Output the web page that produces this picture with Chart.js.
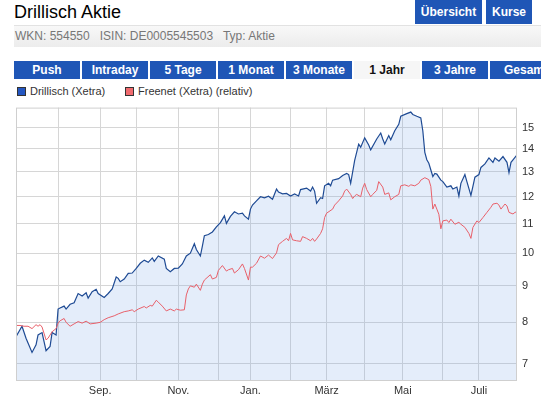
<!DOCTYPE html>
<html lang="de">
<head>
<meta charset="UTF-8">
<title>Drillisch Aktie</title>
<script src="https://cdn.jsdelivr.net/npm/chart.js@4.4.1/dist/chart.umd.min.js"></script>
<style>
  body { margin: 0; width: 541px; height: 397px; overflow: hidden; background: #fff;
         font-family: 'Liberation Sans', Arial, sans-serif; position: relative; }
  .title { position: absolute; left: 14px; top: 2px; font-size: 18px; color: #000; }
  .btn { position: absolute; top: 0; height: 24px; line-height: 24px; background: #1f56b6;
         color: #fff; font-weight: bold; font-size: 12px; text-align: center; }
  .rule { position: absolute; left: 14px; right: 0; top: 25px; height: 1px; background: #e2e2e2; }
  .info { position: absolute; left: 14px; right: 0; top: 26px; height: 21px; line-height: 21px;
          background: linear-gradient(#f8f8f8, #ececec); color: #777; font-size: 12px; padding-left: 1px; white-space: pre; }
  .tab { position: absolute; top: 61px; width: 66px; height: 18px; line-height: 18px; background: #1f56b6;
         color: #fff; font-weight: bold; font-size: 12px; text-align: center; white-space: nowrap; overflow: hidden; }
  .tab.on { background: #f6f6f6; color: #111; }
  .legend { position: absolute; top: 85px; font-size: 11px; color: #333; white-space: nowrap; }
  .legend i { display: inline-block; width: 7px; height: 7px; border: 1px solid #333; margin-right: 4px; vertical-align: -1px; }
  #wrap { position: absolute; left: 0; top: 96px; width: 541px; height: 301px; }
</style>
</head>
<body>
<div class="title">Drillisch Aktie</div>
<div class="btn" style="left:415px;width:67px">Übersicht</div>
<div class="btn" style="left:486px;width:46px">Kurse</div>
<div class="rule"></div>
<div class="info">WKN: 554550   ISIN: DE0005545503   Typ: Aktie</div>

<div class="tab" style="left:14px">Push</div>
<div class="tab" style="left:82px">Intraday</div>
<div class="tab" style="left:150px">5 Tage</div>
<div class="tab" style="left:218px">1 Monat</div>
<div class="tab" style="left:286px">3 Monate</div>
<div class="tab on" style="left:354px">1 Jahr</div>
<div class="tab" style="left:422px">3 Jahre</div>
<div class="tab" style="left:490px;text-align:left;padding-left:14px">Gesamt</div>

<div class="legend" style="left:17px"><i style="background:#2457c2"></i>Drillisch (Xetra)</div>
<div class="legend" style="left:125px"><i style="background:#f06a6e"></i>Freenet (Xetra) (relativ)</div>

<div id="wrap"><canvas id="chart"></canvas></div>

<script>
  // Handelstage (Index) und Kurse
  const drillDays = [0, 3, 5, 8, 10, 11, 13, 14, 15, 17,
    18, 20, 21, 22, 24, 25, 27, 29, 31, 33,
    35, 36, 38, 40, 41, 44, 46, 48, 50, 51,
    52, 54, 56, 58, 60, 62, 64, 66, 68, 69,
    71, 74, 75, 77, 79, 81, 83, 85, 87, 89,
    90, 92, 93, 94, 96, 98, 100, 102, 104, 105,
    107, 109, 111, 113, 114, 116, 117, 118, 120, 122,
    124, 126, 128, 130, 131, 133, 135, 137, 139, 141,
    142, 145, 147, 148, 149, 150, 152, 153, 154, 156,
    157, 158, 161, 163, 165, 166, 167, 169, 171, 172,
    174, 176, 177, 180, 182, 183, 184, 186, 187, 189,
    191, 192, 195, 197, 198, 200, 202, 203, 204, 205,
    206, 208, 209, 210, 212, 213, 215, 217, 218, 220,
    221, 222, 224, 225, 227, 228, 229, 231, 232, 234,
    236, 238, 239, 241, 243, 245, 246, 247, 248, 250];
  const drillisch = [7.64, 7.90, 7.60, 7.26, 7.44, 7.68, 7.74, 7.52, 7.30, 7.40,
    7.74, 7.68, 8.35, 8.38, 8.43, 8.35, 8.48, 8.52, 8.78, 8.71,
    8.80, 8.65, 8.83, 8.90, 8.78, 8.67, 8.78, 8.91, 9.26, 9.22,
    9.12, 9.20, 9.37, 9.38, 9.52, 9.68, 9.78, 9.71, 9.85, 9.74,
    9.91, 9.81, 9.52, 9.42, 9.52, 9.53, 9.66, 9.91, 10.00, 10.31,
    10.12, 9.91, 10.23, 10.58, 10.62, 10.71, 10.89, 11.04, 11.28, 11.01,
    11.26, 11.43, 11.35, 11.38, 11.28, 11.16, 11.53, 11.68, 11.84, 12.00,
    11.96, 12.02, 11.90, 12.30, 12.18, 12.11, 12.13, 12.03, 12.11, 12.03,
    12.28, 12.34, 12.22, 12.38, 12.22, 11.75, 11.96, 11.93, 12.43, 12.53,
    12.43, 12.66, 12.72, 12.85, 12.94, 12.89, 12.53, 13.49, 14.22, 14.08,
    14.51, 14.18, 13.96, 14.46, 14.74, 14.46, 14.23, 14.62, 14.42, 14.85,
    15.16, 15.56, 15.69, 15.77, 15.65, 15.56, 15.48, 14.85, 13.85, 13.52,
    13.37, 12.81, 12.94, 12.91, 12.66, 12.60, 12.38, 12.43, 12.30, 12.38,
    12.03, 12.53, 12.89, 12.60, 12.05, 12.41, 12.78, 12.89, 13.19, 13.34,
    13.60, 13.41, 13.60, 13.46, 13.66, 13.41, 12.97, 13.41, 13.52, 13.74];

  const freeDays = [0, 2, 4, 6, 8, 10, 11, 12, 13, 15,
    16, 18, 20, 21, 22, 24, 25, 27, 29, 31,
    33, 35, 37, 40, 42, 44, 46, 49, 51, 54,
    56, 58, 59, 61, 64, 65, 67, 68, 70, 71,
    73, 75, 77, 79, 80, 82, 84, 85, 86, 87,
    89, 90, 92, 93, 94, 97, 98, 100, 101, 103,
    105, 106, 108, 109, 111, 113, 114, 116, 117, 118,
    120, 122, 124, 126, 128, 130, 131, 133, 135, 136,
    137, 138, 140, 142, 143, 145, 147, 148, 149, 150,
    152, 153, 154, 155, 158, 159, 161, 163, 164, 165,
    167, 168, 169, 170, 172, 173, 174, 175, 177, 178,
    180, 181, 183, 184, 186, 187, 189, 191, 192, 194,
    196, 197, 199, 201, 202, 204, 206, 207, 208, 209,
    210, 211, 212, 213, 215, 216, 217, 219, 221, 222,
    224, 226, 227, 228, 230, 231, 233, 235, 237, 238,
    240, 241, 242, 244, 245, 246, 248, 249, 250];
  const freenet = [7.92, 7.92, 7.90, 7.90, 7.84, 7.94, 7.90, 7.94, 7.88, 7.56,
    7.60, 7.76, 7.84, 7.98, 8.04, 8.10, 8.00, 7.90, 7.96, 8.02,
    7.98, 8.03, 7.96, 7.98, 8.00, 8.07, 8.12, 8.17, 8.22, 8.28,
    8.30, 8.33, 8.28, 8.35, 8.42, 8.38, 8.45, 8.43, 8.59, 8.54,
    8.43, 8.30, 8.35, 8.30, 8.35, 8.32, 8.33, 8.74, 8.91, 9.00,
    8.96, 9.05, 8.87, 9.05, 9.17, 9.33, 9.20, 9.25, 9.46, 9.61,
    9.44, 9.48, 9.52, 9.38, 9.48, 9.66, 9.52, 9.17, 9.56, 9.56,
    9.68, 9.91, 9.84, 9.94, 9.83, 10.01, 10.28, 10.39, 10.49, 10.41,
    10.66, 10.44, 10.41, 10.39, 10.55, 10.49, 10.41, 10.49, 10.39, 10.47,
    10.66, 10.82, 11.22, 11.38, 11.53, 11.68, 11.84, 12.03, 12.22, 12.30,
    12.09, 11.93, 12.03, 12.09, 12.00, 12.34, 12.53, 12.28, 12.00, 12.09,
    12.25, 12.60, 12.38, 12.09, 12.15, 11.88, 12.00, 12.09, 12.43, 12.47,
    12.41, 12.47, 12.43, 12.53, 12.66, 12.76, 12.68, 12.41, 11.53, 11.72,
    11.53, 11.34, 10.82, 11.10, 11.13, 11.04, 11.16, 10.98, 11.05, 10.98,
    10.87, 10.66, 10.49, 10.87, 11.10, 11.04, 11.22, 11.41, 11.60, 11.72,
    11.75, 11.68, 11.53, 11.72, 11.65, 11.41, 11.35, 11.41, 11.43];

  // Monatsgitter und Beschriftungen
  const monthDays = [21, 42, 60, 81, 101, 117, 137, 155, 174, 193, 213, 231];
  const monthLabels = ['', 'Sep.', '', 'Nov.', '', 'Jan.', '', 'März', '', 'Mai', '', 'Juli'];
  const priceTicks = [7, 8, 9, 10, 11, 12, 13, 14, 15];

  const toPoints = (xs, ys) => xs.map((x, i) => ({ x: x, y: ys[i] }));

  const frame = {
    id: 'frame',
    afterDraw(chart) {
      const a = chart.chartArea, c = chart.ctx;
      c.save();
      c.strokeStyle = '#cfcfcf';
      c.lineWidth = 1;
      c.strokeRect(a.left + 0.5, a.top + 0.5, a.right - a.left - 1, a.bottom - a.top - 1);
      c.restore();
    }
  };

  new Chart(document.getElementById('chart'), {
    type: 'line',
    data: {
      datasets: [
        {
          label: 'Freenet (Xetra) (relativ)',
          data: toPoints(freeDays, freenet),
          borderColor: '#e8606a',
          borderWidth: 1,
          pointRadius: 0,
          fill: false,
          tension: 0
        },
        {
          label: 'Drillisch (Xetra)',
          data: toPoints(drillDays, drillisch),
          borderColor: '#1f4b94',
          borderWidth: 1.2,
          pointRadius: 0,
          fill: 'start',
          backgroundColor: 'rgba(120,165,230,0.2)',
          tension: 0
        }
      ]
    },
    options: {
      responsive: true,
      maintainAspectRatio: false,
      animation: false,
      layout: { padding: { top: 5, left: 16, right: 0, bottom: 0 } },
      plugins: {
        legend: { display: false },
        tooltip: { enabled: false },
        filler: { drawTime: 'beforeDatasetsDraw' }
      },
      scales: {
        x: {
          type: 'linear',
          min: 0,
          max: 250,
          afterFit(s) { s.height = 16; },
          afterBuildTicks(s) { s.ticks = monthDays.map(v => ({ value: v })); },
          grid: { color: '#d6d6d6', drawTicks: false },
          border: { display: false },
          ticks: {
            autoSkip: false, maxRotation: 0, padding: 3,
            color: '#333', font: { family: 'Liberation Sans', size: 11 },
            callback: (v) => monthLabels[monthDays.indexOf(v)] || ''
          }
        },
        y: {
          type: 'logarithmic',
          position: 'right',
          min: 6.62,
          max: 16,
          afterFit(s) { s.width = 24; },
          afterBuildTicks(s) { s.ticks = priceTicks.map(v => ({ value: v })); },
          grid: { color: '#d6d6d6', drawTicks: false },
          border: { display: false },
          ticks: {
            padding: 5,
            color: '#333', font: { family: 'Liberation Sans', size: 11 },
            callback: (v) => String(v)
          }
        }
      }
    },
    plugins: [frame]
  });
</script>
</body>
</html>
